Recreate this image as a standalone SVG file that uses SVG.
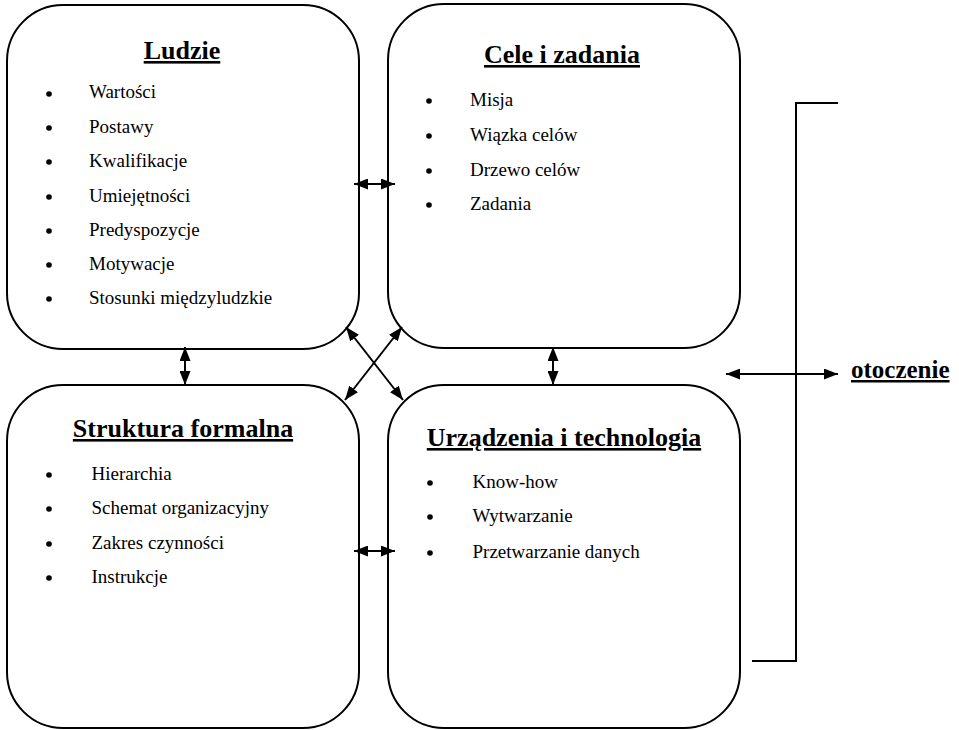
<svg xmlns="http://www.w3.org/2000/svg" width="959" height="730" viewBox="0 0 959 730">
  <defs>
    <marker id="head" viewBox="0 0 14 11" refX="14" refY="5.5" markerWidth="14" markerHeight="11" markerUnits="userSpaceOnUse" orient="auto-start-reverse">
      <path d="M0,0 L14,5.5 L0,11 z" fill="#000"/>
    </marker>
    <style>
      .box { fill: #fff; stroke: #000; stroke-width: 2; }
      .title { font-family: "Liberation Serif", "Times New Roman", serif; font-weight: bold; font-size: 26px; text-anchor: middle; text-decoration: underline; fill: #000; }
      .item { font-family: "Liberation Serif", "Times New Roman", serif; font-size: 19px; fill: #000; }
      .dot { fill: #000; }
      .link { fill: none; stroke: #000; stroke-width: 2; marker-start: url(#head); marker-end: url(#head); }
      .bracket { fill: none; stroke: #000; stroke-width: 2; }
      .env { font-family: "Liberation Serif", "Times New Roman", serif; font-weight: bold; font-size: 25px; text-decoration: underline; fill: #000; }
    </style>
  </defs>
  <rect width="959" height="730" fill="#fff"/>

  <!-- People -->
  <g id="ludzie">
    <rect class="box" x="7" y="5" width="352" height="344" rx="56" ry="56"/>
    <text class="title" x="182" y="59">Ludzie</text>
    <g class="dot">
      <circle cx="49" cy="94" r="2.8"/>
      <circle cx="49" cy="128" r="2.8"/>
      <circle cx="49" cy="162" r="2.8"/>
      <circle cx="49" cy="197" r="2.8"/>
      <circle cx="49" cy="231" r="2.8"/>
      <circle cx="49" cy="265" r="2.8"/>
      <circle cx="49" cy="299" r="2.8"/>
    </g>
    <text class="item" x="89" y="98">Wartości</text>
    <text class="item" x="89" y="133">Postawy</text>
    <text class="item" x="89" y="167">Kwalifikacje</text>
    <text class="item" x="89" y="202">Umiejętności</text>
    <text class="item" x="89" y="236">Predyspozycje</text>
    <text class="item" x="89" y="270">Motywacje</text>
    <text class="item" x="89" y="304">Stosunki międzyludzkie</text>
  </g>

  <!-- Goals and tasks -->
  <g id="cele">
    <rect class="box" x="388" y="4" width="352" height="344" rx="56" ry="56"/>
    <text class="title" x="562" y="63">Cele i zadania</text>
    <g class="dot">
      <circle cx="429" cy="101" r="2.8"/>
      <circle cx="429" cy="136" r="2.8"/>
      <circle cx="429" cy="171" r="2.8"/>
      <circle cx="429" cy="205" r="2.8"/>
    </g>
    <text class="item" x="470" y="106">Misja</text>
    <text class="item" x="470" y="141">Wiązka celów</text>
    <text class="item" x="470" y="176">Drzewo celów</text>
    <text class="item" x="470" y="210">Zadania</text>
  </g>

  <!-- Formal structure -->
  <g id="struktura">
    <rect class="box" x="7" y="385" width="352" height="343" rx="56" ry="56"/>
    <text class="title" x="183" y="437">Struktura formalna</text>
    <g class="dot">
      <circle cx="49" cy="475" r="2.8"/>
      <circle cx="49" cy="509" r="2.8"/>
      <circle cx="49" cy="544" r="2.8"/>
      <circle cx="49" cy="578" r="2.8"/>
    </g>
    <text class="item" x="91.5" y="480">Hierarchia</text>
    <text class="item" x="91.5" y="514">Schemat organizacyjny</text>
    <text class="item" x="91.5" y="549">Zakres czynności</text>
    <text class="item" x="91.5" y="583">Instrukcje</text>
  </g>

  <!-- Equipment and technology -->
  <g id="urzadzenia">
    <rect class="box" x="388" y="385" width="352" height="343" rx="56" ry="56"/>
    <text class="title" x="564" y="446">Urządzenia i technologia</text>
    <g class="dot">
      <circle cx="430" cy="483" r="2.8"/>
      <circle cx="430" cy="517" r="2.8"/>
      <circle cx="430" cy="553" r="2.8"/>
    </g>
    <text class="item" x="472.5" y="488">Know-how</text>
    <text class="item" x="472.5" y="522">Wytwarzanie</text>
    <text class="item" x="472.5" y="558">Przetwarzanie danych</text>
  </g>

  <!-- Environment -->
  <g id="otoczenie">
    <path class="bracket" d="M838,103 H796 V661 H752"/>
    <text class="env" x="851" y="378">otoczenie</text>
  </g>

  <!-- Two-way links -->
  <g id="connectors">
    <line class="link" x1="354" y1="184" x2="395" y2="184"/>
    <line class="link" x1="354" y1="551" x2="395" y2="551"/>
    <line class="link" x1="185" y1="347" x2="185" y2="385"/>
    <line class="link" x1="553" y1="347" x2="553" y2="385"/>
    <line class="link" x1="346" y1="327" x2="403" y2="400"/>
    <line class="link" x1="402" y1="327" x2="345" y2="400"/>
    <line class="link" x1="726" y1="374" x2="838" y2="374"/>
  </g>
</svg>
